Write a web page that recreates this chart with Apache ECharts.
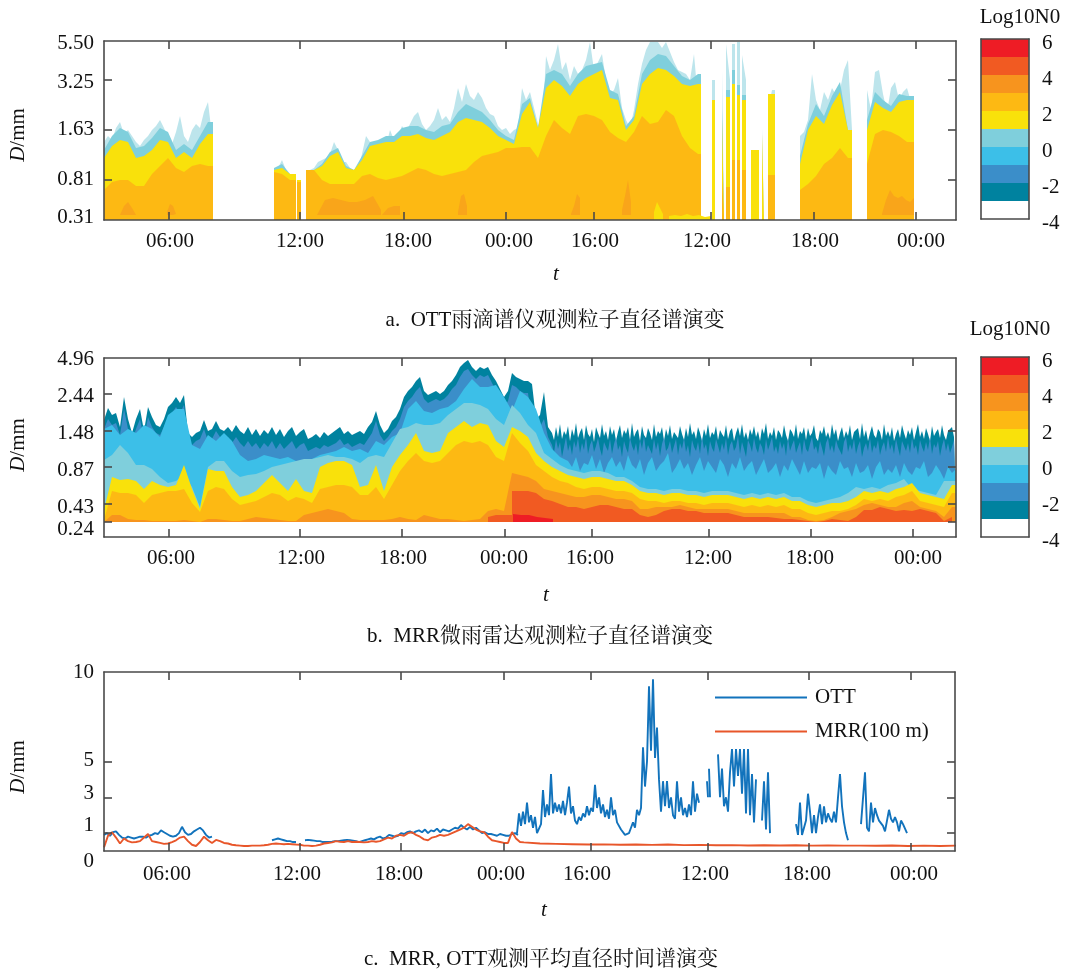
<!DOCTYPE html>
<html><head><meta charset="utf-8">
<script src="https://cdn.jsdelivr.net/npm/echarts@6/dist/echarts.min.js"></script>
<style>html,body{margin:0;padding:0;background:#fff}#c{width:1071px;height:971px}</style></head>
<body><div id="c"></div>
<script>
const bandColors=['#ffffff','#00829f','#3b8ec9','#3cbfe8','#7fcfdc','#f9e10b','#fdb913','#f7941e','#f15a22','#ee1c25'];
const bandLevels=[1,1,1,1,1,1,1,1,1,1];
const cbTickLabels=['-4','-2','0','2','4','6'];
const cbTickAt=[0,2,4,6,8,10];
const xTimeLabels=['06:00','12:00','18:00','00:00','16:00','12:00','18:00','00:00'];
const aXTicks=[65,196,300,402,490,607,710,812], aXLabelAt=[66,196,304,405,491,603,711,817];
const bXTicks=[65,196,298,401,488,605,707,809], bXLabelAt=[67,197,299,400,486,604,706,814];
const cXTicks=[65,196,297,400,487,604,705,807], cXLabelAt=[63,193,295,397,483,601,703,810];
const aYTicks=[40,90,140], aYLabelAt=[3,41,91,138,177], aYLabels=['0.31','0.81','1.63','3.25','5.50'];
const bYTicks=[15,33,70,106,143], bYLabelAt=[8,30,67,104,141,178], bYLabels=['0.24','0.43','0.87','1.48','2.44','4.96'];
const cYTicks=[1,3,5], cYLabelAt=[0,1.45,3.2,5.08,9.95], cYLabels=['0','1','3','5','10'];

// Panel a: rain runs (time offset start/end) and band top heights on the size-class scale
const aRunStart=[0,170,193,202,608,618,622,628,633,638,647,658,664,696,763];
const aRunEnd=[109,192,197,597,611,620,626,631,636,642,655,660,671,748,810];
const aWisp=[
[78,84,80,92,98,86,90,84,78,74,80,84,90,94,100,92,82,76,88,104,84,78,90,96,92,108,118,84],
[50,52,60,50,42,42],[40,40],
[50,50,52,58,60,62,66,78,70,58,58,52,50,50,66,84,78,74,76,78,74,90,80,84,94,88,96,104,108,96,90,94,100,112,100,104,98,112,132,118,136,124,120,128,122,112,106,104,94,90,92,86,90,92,132,120,128,112,96,88,164,150,160,176,150,158,140,154,146,150,160,178,150,158,166,140,126,130,142,112,100,92,110,136,156,170,178,178,178,172,178,168,158,150,148,146,140,166,120],
[140],[150],[176,140],[176],[178],[165,140],[70,60,60],[92],[110,130],
[84,88,100,146,120,110,128,120,132,125,130,150,160,90],
[130,110,148,150,126,108,132,138,120,128,132,118]];
const aTealCore=[
[70,84,92,88,72,74,82,92,88,70,76,70,84,98],
[52,56,46],[40],
[50,50,56,68,72,54,50,64,78,80,84,84,92,94,94,90,88,94,96,108,116,112,108,100,90,84,80,116,122,92,146,150,146,134,146,154,156,158,130,126,94,104,146,160,166,164,154,144,140,146],
[0],[110],[130],[150],[135],[125],[0],[0],[126],
[64,96,116,104,124,138,90],
[100,128,120,114,126,124]];
const aYellow=[
[62,74,80,78,62,64,70,80,78,62,68,62,76,86],
[50,52,46],[40],
[50,50,54,64,68,52,50,60,74,76,78,78,84,84,86,82,80,84,88,98,102,100,98,92,84,80,76,106,118,92,132,140,134,124,136,142,146,150,122,120,90,100,136,146,152,150,144,136,134,136],
[120],[100],[123],[136],[125],[120],[70],[86],[126],
[56,90,104,96,115,128,90],
[90,118,112,108,118,120]];
const aGold=[
[30,38,40,40,34,34,46,54,62,52,48,54,56,54],
[48,46,40],[38],
[50,50,40,36,36,36,36,44,46,42,40,42,44,48,52,50,46,44,46,48,50,58,64,66,68,72,72,73,73,62,84,100,92,86,104,106,104,100,88,82,78,88,104,96,98,110,104,84,72,66],
[0],[40],[33],[60],[60],[50],[0],[0],[45],
[30,36,44,56,62,72,62],
[56,86,90,88,84,78]];
const aOrangeStart=[16,63,213,278,354,467,518,778];
const aOrangeStep=[4,3,8,6,3,3,3,4];
const aOrange=[[5,14,18,12,5],[8,16,14,6],[5,20,22,20,18,18,20,24,10],[5,12,14,14],[8,24,26,14],[6,14,26,22],[10,24,40,18],[6,20,30,24,22,24,20,18,22]];
const aFloorStart=[550,565];
const aFloorStep=[3,6];
const aFloor=[[8,18,12,6],[4,5,4,6,4,5,3,4]];

// Panel b: band top heights, continuous in time
const bTopEarly=[117,129,122,124,110,140,118,104,118,128,106,130,120,112,110,118,130,134,140,134,142,104,100,104,106,117,106,108,116,108,106,110,105,112,106,103,110,102,108,101,107,103,110,102,108,100,106,110,101,105,108,98,100,103,99,105,101,104,107,110,103,106,102,104,106,103,110,115,126,112,104,108,116,120,128,140,146,150,156,160,146,142,144,146,143,146,152,156,162,170,174,177,170,166,170,168,170,162,156,148,140,146,164,160,158,156,156,153,118,122,145,110];
const bTopLate=[104,97,110,100,113,98,106,102,111,96,108,101,114,99,105,109,97,112,103,100,108,95,110,104,99,113,101,106,97,111,102,108,96,105,112,99,107,103,110,97,114,100,105,108,96,111,102,99,109,104,97,113,100,106,103,110,96,108,101,112,98,105,107,99,111,103,97,109,100,114,102,106,98,110,104,96,108,101,113,99,105,102,111,97,107,103,100,112,98,106,109,96,104,110,101,113,99,105,97,108,102,111,100,106,96,109,103,114,98,105,101,110,97,107,104,99,112,102,96,108,105,100,113,98,106,103,110,97,109,101,104,112,99,96,107,103,111,100,105,98,113,102,108,96,104,110,99,106,101,112,97,105,103,109,98,114,100,107,96,104,111,102,99,108,105,97,113,101,106,100,110,96,103,108,99,112,104,98,107,102,110,97,105,113,100,106,98,109,103,96,111,101,105,108,99,112,102,97,106,104,110,100];
const bBlueEarly=[108,118,112,114,102,128,108,96,108,118,98,120,110,104,102,110,120,124,130,124,132,94,92,96,98,108,96,98,106,100,98,100,94,100,94,90,96,90,94,88,94,90,96,88,94,88,92,96,88,92,94,86,88,90,88,92,90,92,94,98,92,94,90,92,94,92,98,104,116,102,96,100,106,110,118,130,136,140,146,150,138,134,136,138,136,138,142,148,152,160,166,168,162,158,162,160,162,154,146,140,130,136,152,150,146,144,144,112,106,110,118,100];
const bBlueLate=[92,84,98,88,95,80,90,100,86,93,82,96,89,99,84,94,87,101,83,92,97,85,91,99,88,81,95,90,86,98,83,93,100,87,92,80,96,89,84,99,91,86,94,82,97,88,101,85,92,90,83,98,87,95,81,93,100,86,89,96,84,91,98,82,94,88,99,85,92,80,97,90,86,95,83,100,88,93,81,96,89,85,98,91,84,94,87,99,82,92,96,86,90,101,83,95,88,80,97,92,85,99,89,84,94,90,82,98,87,93,100,85,91,83,96,88,94,81,99,86,92,97,84,90,95,82,98,88,85,93,100,87,91,83,96,89,81,94,99,86,92,84,97,90,88,82,95,100,85,93,87,98,83,91,96,80,89,94,86,99,84,92,88,97,82,90,95,85,100,87,93,83,98,89,81,96,91,86,94,84,99,88,92,82,97,90,85,95,87,100,83,93,89,96,81,91,98,86,94,84,90,97];
const bCyanEarly=[108,112,102,108,104,112,108,100,122,128,128,92,88,102,96,104,96,82,76,78,82,80,78,80,76,74,78,82,84,86,90,86,88,84,96,92,100,104,128,136,126,124,128,130,136,148,158,150,150,152,140,126,146,140,128,104,88,80];
const bCyanLate=[76,70,80,66,74,72,82,68,78,64,74,80,70,76,66,82,72,68,78,62,74,80,66,72,76,84,64,70,78,68,74,62,72,80,66,76,70,64,78,72,60,74,68,80,66,72,76,62,70,78,64,68,74,60,72,66,78,70,62,76,64,70,68,74,58,72,66,62,76,68,70,60,74,64,66,72,58,70,76,62,68,64,72,60,74,66,62,70,68,76,60,64,72,66,58,70,64,68];
const bTeal=[77,82,92,84,72,72,68,60,54,56,62,50,30,70,76,76,66,60,62,63,66,70,72,74,76,78,78,80,82,80,80,78,74,80,82,80,94,108,110,114,112,112,114,122,128,134,134,132,128,118,112,132,124,112,104,
84,78,72,68,66,64,66,66,64,60,60,56,50,48,48,46,48,48,46,46,44,46,46,46,44,42,44,42,44,42,44,40,40,36,34,36,38,40,44,50,48,50,48,52,54,58,48,46,44,42,56];
const bYellow=[27,60,57,58,56,48,56,52,50,52,72,48,28,68,66,66,50,40,42,46,54,62,54,46,58,46,44,70,74,76,76,72,50,52,72,46,70,82,92,104,86,84,86,104,110,116,110,114,112,96,90,110,106,100,84,
76,70,66,62,60,58,60,60,58,56,56,52,46,44,44,42,44,44,42,42,40,42,42,42,40,38,40,38,40,38,40,36,36,32,30,32,34,34,36,40,46,44,46,44,48,50,54,44,42,40,38,52];
const bGold=[17,46,44,44,42,34,42,44,46,46,48,34,25,46,50,48,38,32,34,36,40,44,42,36,40,38,34,48,50,52,52,50,42,42,50,38,52,66,76,84,76,74,76,84,92,96,94,96,92,80,76,104,94,86,72,
66,60,56,54,50,48,50,50,48,46,46,44,38,36,36,34,36,36,34,34,32,34,34,34,32,30,32,30,32,30,32,28,28,24,22,24,26,26,28,32,38,36,38,36,40,42,46,36,34,32,30,44];
const bOrange=[15,22,22,18,17,17,16,16,16,16,17,16,15,18,18,17,16,16,18,20,19,18,17,16,16,22,24,26,28,26,24,18,17,17,17,17,18,20,18,17,22,20,18,18,17,16,17,18,26,28,26,64,62,60,56,
48,46,44,42,40,40,42,42,40,38,38,36,28,28,30,30,30,32,30,28,28,28,28,28,26,24,24,24,24,24,24,20,20,17,16,17,20,24,26,28,32,34,32,30,30,34,36,30,28,26,20,30];
const bRedOrangeStart=[384,408];
const bRedOrange=[[20,22,22,22],[46,46,46,44,38,36,33,30,30,28,30,32,32,30,28,28,22,20,22,26,28,28,26,26,24,24,24,24,22,20,20,20,20,19,18,18,17,16,15,16,18,17,16,20,27,27,30,28,26,27,26,28,26,24,16,20]];
const bRedStart=[409];
const bRed=[[23,22,22,20,19,18]];

// Panel c: mean diameter (mm)
const ottStart=[0,168,201,413,603,605,614,658,692,757];
const ottStep=[3,3,3,2,1,1,2,2,2,2];
const ottRuns=[
[.9,1.0,.85,1.05,1.1,.9,.75,.7,.8,.75,.7,.75,.8,.8,.75,.85,.9,1.0,.95,1.15,1.05,.95,.85,.8,.85,1.0,1.35,1.05,.9,.95,1.1,1.2,1.3,1.15,.9,.75,.8],
[.6,.65,.7,.65,.6,.55,.55,.5,.5],
[.6,.62,.6,.58,.55,.55,.5,.5,.5,.52,.55,.55,.58,.6,.62,.6,.58,.55,.5,.55,.6,.65,.7,.65,.75,.8,.7,.75,.9,.85,.8,.85,1.0,.95,1.05,1.1,1.0,1.1,1.15,1.05,1.2,1.0,1.15,1.1,1.25,1.05,1.2,1.15,1.1,1.2,1.3,1.25,1.45,1.3,1.2,1.35,1.2,1.3,1.15,1.0,1.05,.95,.95,.9,.85,.95,.9,.85,.85,.95,1.0,.9],
[1.0,2.1,1.4,2.2,1.5,2.7,1.6,2.0,1.3,1.9,1.0,.9,1.5,3.4,1.9,2.6,2.0,4.3,2.1,2.7,2.2,2.6,2.1,2.8,2.0,2.7,3.6,2.1,2.5,1.7,1.5,1.9,1.7,2.1,1.9,2.5,2.0,2.4,2.2,3.7,2.4,3.0,2.1,2.6,1.9,2.3,1.8,3.0,2.0,2.3,1.6,1.5,1.2,1.1,.9,.85,1.0,1.3,1.6,1.3,2.3,2.0,2.4,5.8,3.6,5.0,9.2,5.6,9.6,5.2,6.9,4.0,2.2,3.9,2.5,3.9,2.4,3.0,2.0,1.8,3.9,2.2,3.0,2.0,2.4,1.9,2.6,2.0,3.9,2.2,3.2,2.7],
[3.9,3.0],[4.6,3.0],
[5.4,3.0,4.6,2.5,3.0,2.2,4.4,5.7,3.6,5.7,4.2,5.7,3.2,5.7,2.1,5.7,2.0,4.3,1.6,4.0],
[1.7,3.9,1.2,4.4,1.0],
[1.5,.9,2.7,.9,1.0,1.7,3.2,2.2,1.0,2.0,1.0,1.9,2.6,1.5,2.5,1.6,2.1,1.8,1.6,2.2,1.6,3.0,4.3,2.5,1.6,1.0,.6],
[1.5,1.6,4.4,1.3,1.1,2.7,1.6,2.4,2.0,1.7,1.6,1.4,1.1,1.7,2.3,1.8,1.6,1.9,1.6,1.1,1.7,1.5,1.4,1.0]];
const mrrEarly=[.2,.85,1.05,.75,.42,.7,.55,.48,.5,.55,.75,.95,.55,.5,.45,.4,.42,.5,.6,.75,.8,.55,.35,.28,.5,.8,.6,.45,.62,.55,.45,.42,.35,.32,.3,.28,.28,.3,.3,.3,.32,.35,.4,.42,.4,.38,.4,.38,.36,.35,.3,.3,.28,.3,.35,.42,.45,.48,.55,.52,.5,.55,.5,.52,.5,.48,.5,.55,.52,.55,.65,.75,.7,.85,.9,.85,1.0,1.05,.9,.8,.65,.6,.75,.8,.9,.85,.9,1.0,1.1,1.2,1.3,1.5,1.35,1.2,1.1,1.05,.8,.6,.55,.5,.45,.45,1.06,.7,.5];
const mrrLate=[.48,.42,.4,.38,.36,.37,.35,.36,.34,.36,.33,.34,.32,.33,.31,.32,.31,.32,.3,.31,.3,.3,.29,.31,.28,.3,.28,.3];

const font='"Liberation Serif","Noto Serif CJK SC","Noto Sans CJK SC",serif';
const fs=21;
const ink='#4a4a4a';
function points(starts,step,runs,ends){
  const out=[];
  runs.forEach((r,k)=>{
    const s=Array.isArray(step)?step[k]:step;
    r.forEach((v,i)=>out.push([starts[k]+i*s,v]));
    let last=starts[k]+(r.length-1)*s;
    if(ends&&ends[k]>last){out.push([ends[k],r[r.length-1]]);last=ends[k];}
    out.push([last+0.01,null]);
  });
  return out;
}
function joined(early,earlyStep,late,lateStart,lateStep,end){
  const out=early.map((v,i)=>[i*earlyStep,v]).concat(late.map((v,i)=>[lateStart+i*lateStep,v]));
  if(end&&out[out.length-1][0]<end)out.push([end,out[out.length-1][1]]);
  return out;
}
const xAxis=[],yAxis=[],grid=[],series=[];
function panel(box,xMax,yMax,xt,xl,yt,yl,yLab,xMargin){
  const g=grid.length;grid.push(box);
  const line={show:true,onZero:false,lineStyle:{color:ink,width:1.6}};
  const tick=(vals)=>({show:true,inside:true,length:8,customValues:vals,lineStyle:{color:ink,width:1.6}});
  xAxis.push({gridIndex:g,type:'value',min:0,max:xMax,position:'bottom',z:6,axisLine:line,splitLine:{show:false},axisTick:tick(xt),
    axisLabel:{show:true,customValues:xl,margin:xMargin,color:'#111',fontFamily:font,fontSize:fs,formatter:v=>xTimeLabels[xl.indexOf(v)]||''}});
  xAxis.push({gridIndex:g,type:'value',min:0,max:xMax,position:'top',z:6,axisLine:line,splitLine:{show:false},axisTick:tick(xt),axisLabel:{show:false}});
  yAxis.push({gridIndex:g,type:'value',min:0,max:yMax,position:'left',z:6,axisLine:line,splitLine:{show:false},axisTick:tick(yt),
    axisLabel:{show:true,customValues:yl,margin:10,color:'#111',fontFamily:font,fontSize:fs,
      formatter:v=>{const t=yLab[yl.indexOf(v)];return v===0?'{low|'+t+'}':t;},rich:{low:{padding:[20,0,0,0],fontFamily:font,fontSize:fs,color:'#111'}}}});
  yAxis.push({gridIndex:g,type:'value',min:0,max:yMax,position:'right',z:6,axisLine:line,splitLine:{show:false},axisTick:tick(yt),axisLabel:{show:false}});
  return {x:xAxis.length-2,y:yAxis.length-2};
}
function area(ax,name,color,data,origin){
  series.push({type:'line',name,xAxisIndex:ax.x,yAxisIndex:ax.y,data,showSymbol:false,symbol:'none',silent:true,connectNulls:false,
    lineStyle:{width:0,color},itemStyle:{color},areaStyle:{color,opacity:1,origin},clip:true,animation:false,z:2});
}
const pa=panel({left:104,width:852,top:41,height:179},852,179,aXTicks,aXLabelAt,aYTicks,aYLabelAt,aYLabels,11);
area(pa,'a-wisp','#bde5ec',points(aRunStart,4,aWisp,aRunEnd),0);
area(pa,'a-0',bandColors[4],points(aRunStart,8,aTealCore,aRunEnd),0);
area(pa,'a-1',bandColors[5],points(aRunStart,8,aYellow,aRunEnd),0);
area(pa,'a-2',bandColors[6],points(aRunStart,8,aGold,aRunEnd),0);
area(pa,'a-3','#f9a51a',points(aOrangeStart,aOrangeStep,aOrange),5);
area(pa,'a-4',bandColors[5],points(aFloorStart,aFloorStep,aFloor),0);

const pb=panel({left:104,width:852,top:358,height:179},852,179,bXTicks,bXLabelAt,bYTicks,bYLabelAt,bYLabels,11);
const end=[852];
area(pb,'b-0',bandColors[1],joined(bTopEarly,4,bTopLate,448,2,852),15);
area(pb,'b-1',bandColors[2],joined(bBlueEarly,4,bBlueLate,448,2,852),15);
area(pb,'b-2',bandColors[3],joined(bCyanEarly,8,bCyanLate,464,4,852),15);
area(pb,'b-3',bandColors[4],points([0],8,[bTeal],end),15);
area(pb,'b-4',bandColors[5],points([0],8,[bYellow],end),15);
area(pb,'b-5',bandColors[6],points([0],8,[bGold],end),15);
area(pb,'b-6',bandColors[7],points([0],8,[bOrange],end),15);
area(pb,'b-7',bandColors[8],points(bRedOrangeStart,8,bRedOrange),15);
area(pb,'b-8',bandColors[9],points(bRedStart,8,bRed),15);

const pc=panel({left:104,width:851,top:672,height:179},851,10,cXTicks,cXLabelAt,cYTicks,cYLabelAt,cYLabels,13);
series.push({type:'line',name:'OTT',xAxisIndex:pc.x,yAxisIndex:pc.y,data:points(ottStart,ottStep,ottRuns),symbol:'none',showSymbol:false,connectNulls:false,lineStyle:{color:'#1273bc',width:1.9},itemStyle:{color:'#1273bc'},animation:false,z:2});
series.push({type:'line',name:'MRR(100 m)',xAxisIndex:pc.x,yAxisIndex:pc.y,data:joined(mrrEarly,4,mrrLate,420,16),symbol:'none',showSymbol:false,lineStyle:{color:'#e8562a',width:1.9},itemStyle:{color:'#e8562a'},animation:false,z:3});

function colorbar(top,idx){
  const g=grid.length;grid.push({left:981,width:48,top,height:180});
  const line={show:true,onZero:false,lineStyle:{color:ink,width:1.6}};
  xAxis.push({gridIndex:g,type:'category',data:['N0'],position:'bottom',z:6,axisLine:line,axisTick:{show:false},axisLabel:{show:false}});
  xAxis.push({gridIndex:g,type:'category',data:['N0'],position:'top',z:6,axisLine:line,axisTick:{show:false},axisLabel:{show:false}});
  yAxis.push({gridIndex:g,type:'value',min:0,max:10,position:'left',z:6,axisLine:line,splitLine:{show:false},axisTick:{show:false},axisLabel:{show:false}});
  yAxis.push({gridIndex:g,type:'value',min:0,max:10,position:'right',z:6,axisLine:line,splitLine:{show:false},axisTick:{show:false},
    axisLabel:{show:true,customValues:cbTickAt,margin:13,align:'left',fontFamily:font,fontSize:fs,color:'#111',
      formatter:v=>'{t|'+cbTickLabels[cbTickAt.indexOf(v)]+'}',rich:{t:{padding:[8,0,0,0],fontFamily:font,fontSize:fs,color:'#111'}}}});
  const xi=xAxis.length-2,yi=yAxis.length-2;
  bandLevels.forEach((h,k)=>series.push({type:'bar',name:'cb'+idx+k,stack:'cb'+idx,xAxisIndex:xi,yAxisIndex:yi,data:[h],barWidth:'100%',itemStyle:{color:bandColors[k]},silent:true,animation:false,z:2}));
}
colorbar(39,0);colorbar(357,1);

function txt(x,y,t,extra){return {type:'text',x,y,silent:true,z:20,style:Object.assign({text:t,fontFamily:font,fontSize:fs,fill:'#111',textAlign:'center',textVerticalAlign:'middle'},extra||{})};}
function dLabel(y){return {type:'text',x:18,y,rotation:Math.PI/2,silent:true,z:20,style:{text:'{i|D}/mm',fontFamily:font,fontSize:fs,fill:'#111',textAlign:'center',textVerticalAlign:'middle',rich:{i:{fontFamily:font,fontSize:fs,fontStyle:'italic',fill:'#111'}}}};}
const graphic=[
 dLabel(135),dLabel(445),dLabel(767),
 txt(556,274,'t',{fontStyle:'italic'}),txt(546,595,'t',{fontStyle:'italic'}),txt(544,910,'t',{fontStyle:'italic'}),
 txt(555,320,'a.  OTT雨滴谱仪观测粒子直径谱演变'),
 txt(540,636,'b.  MRR微雨雷达观测粒子直径谱演变'),
 txt(541,959,'c.  MRR, OTT观测平均直径时间谱演变'),
 txt(1020,17,'Log10N0'),txt(1010,329,'Log10N0')
];
const chart=echarts.init(document.getElementById('c'),null,{renderer:'canvas'});
chart.setOption({animation:false,backgroundColor:'#fff',grid,xAxis,yAxis,series,graphic,
 legend:{data:['OTT','MRR(100 m)'],orient:'vertical',left:714,top:687,itemWidth:92,itemHeight:20,itemGap:13,itemStyle:{opacity:0},
   textStyle:{fontFamily:font,fontSize:fs,color:'#111',padding:[0,0,0,3]},selectedMode:false,padding:0}
});
</script></body></html>
